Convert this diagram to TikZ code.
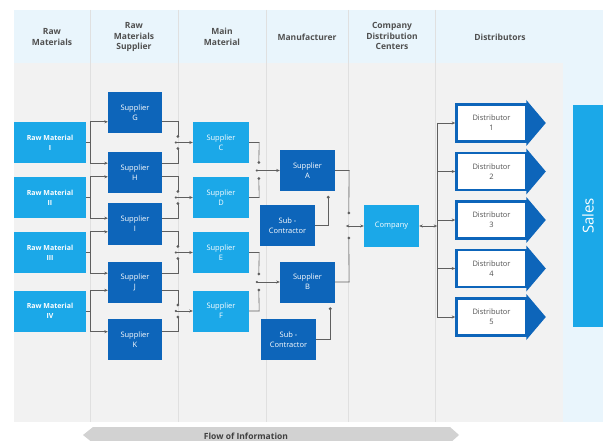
\documentclass[tikz,border=0pt]{standalone}
\usepackage{fontspec}
\setmainfont{Open Sans}
\usetikzlibrary{calc,arrows.meta}
\definecolor{lblue}{RGB}{27,168,232}
\definecolor{dblue}{RGB}{13,101,186}
\definecolor{hdrbg}{RGB}{233,245,252}
\definecolor{bodybg}{RGB}{242,242,242}
\definecolor{divline}{RGB}{224,224,224}
\definecolor{lgray}{RGB}{95,95,95}
\definecolor{htext}{RGB}{80,80,80}
\definecolor{flowbg}{RGB}{210,210,210}
\definecolor{shadowc}{RGB}{205,215,225}
\tikzset{
  boxbase/.style={inner sep=0pt, align=center, text=white, font=\fontsize{7.5}{10}\selectfont, minimum height=41pt},
  rmbox/.style={boxbase, fill=lblue, minimum width=72pt, font=\bfseries\fontsize{7}{10}\selectfont},
  rsbox/.style={boxbase, fill=dblue, minimum width=54pt},
  mmbox/.style={boxbase, fill=lblue, minimum width=56pt},
  mfbox/.style={boxbase, fill=dblue, minimum width=55pt},
  distbox/.style={inner sep=0pt, align=center, text=htext, font=\fontsize{7.5}{10}\selectfont, fill=white, draw=dblue, line width=2.6pt, minimum width=70pt, minimum height=37pt},
  hdr/.style={align=center, text=htext, font=\bfseries\fontsize{8.5}{10.5}\selectfont},
  conn/.style={draw=lgray, line width=0.6pt},
  arr/.style={conn, -{Stealth[length=3.5pt,width=3pt]}},
  darr/.style={conn, {Stealth[length=3.5pt,width=3pt]}-{Stealth[length=3.5pt,width=3pt]}},
  jdot/.style={fill=lgray, draw=none}
}
\begin{document}
\begin{tikzpicture}[x=1pt,y=-1pt]
\useasboundingbox (0,0) rectangle (603,441);
% backgrounds
\fill[white] (0,0) rectangle (603,441);
\fill[hdrbg] (14,10) rectangle (603,422);
\fill[bodybg] (14,63) rectangle (563,422);
\foreach \x in {90,178,266,348,435}{
  \draw[divline, line width=0.7pt] (\x,10) -- (\x,422);
}
% flow of information bar
\fill[flowbg] (93,427) -- (450,427) -- (459,435) -- (450,443) -- (93,443) -- (83,435) -- cycle;
\node[font=\bfseries\fontsize{8.5}{9}\selectfont, text=black!75] (flow) at (246,436) {Flow of Information};
% headers
\node[hdr] (h1) at (52,37) {Raw\\Materials};
\node[hdr] (h2) at (134,37) {Raw\\Materials\\Supplier};
\node[hdr] (h3) at (222,37) {Main\\Material};
\node[hdr] (h4) at (307,37) {Manufacturer};
\node[hdr] (h5) at (392,36) {Company\\Distribution\\Centers};
\node[hdr] (h6) at (500,37) {Distributors};
% raw materials
\node[rmbox] (rm1) at (50,142.5) {Raw Material\\I};
\node[rmbox] (rm2) at (50,197.5) {Raw Material\\II};
\node[rmbox] (rm3) at (50,252.5) {Raw Material\\III};
\node[rmbox] (rm4) at (50,311) {Raw Material\\IV};
% raw material suppliers
\node[rsbox] (g) at (135,112.5) {Supplier\\G};
\node[rsbox] (h) at (135,172.5) {Supplier\\H};
\node[rsbox] (i) at (135,224) {Supplier\\I};
\node[rsbox] (j) at (135,282) {Supplier\\J};
\node[rsbox] (k) at (135,339.5) {Supplier\\K};
% main material
\node[mmbox] (c) at (221,142.5) {Supplier\\C};
\node[mmbox] (d) at (221,197.5) {Supplier\\D};
\node[mmbox] (e) at (221,252.5) {Supplier\\E};
\node[mmbox] (f) at (221,311) {Supplier\\F};
% manufacturer
\node[mfbox] (a) at (307.5,170.5) {Supplier\\A};
\node[mfbox] (s1) at (287.5,225.5) {Sub -\\Contractor};
\node[mfbox] (b) at (307.5,282) {Supplier\\B};
\node[mfbox] (s2) at (288.5,339.5) {Sub -\\Contractor};
% company
\node[mmbox, minimum width=55pt, minimum height=42pt] (comp) at (391.5,226) {Company};
% distributors
\foreach \n/\y in {1/123,2/171.5,3/220,4/268.5,5/317}{
  \node[distbox] (d\n) at (491.5,\y) {Distributor\\\n};
  \fill[dblue] ($(d\n.east)+(-1.5,-23)$) -- ($(d\n.east)+(18,0)$) -- ($(d\n.east)+(-1.5,23)$) -- cycle;
}
% sales
\node[fill=lblue, minimum width=30pt, minimum height=222pt, inner sep=0pt] (sales) at (588,216) {};
\node[rotate=90, text=white, font=\fontsize{15}{16}\selectfont] (saleslbl) at (sales.center) {Sales};
% raw materials -> suppliers
\foreach \r/\u/\l in {rm1/g/h,rm2/h/i,rm3/i/j,rm4/j/k}{
  \draw[conn] (\r.east) -- ++(4,0);
  \draw[conn] ($(\r.north east)+(4,0)$) -- ($(\r.south east)+(4,0)$);
  \draw[arr] ($(\r.north east)+(4,0)$) -- (\r.north east -| \u.west);
  \draw[arr] ($(\r.south east)+(4,0)$) -- (\r.south east -| \l.west);
}
% suppliers -> main material
\foreach \m/\u/\l in {c/g/h,d/h/i,e/i/j,f/j/k}{
  \draw[conn] (\m.north west -| \u.east) -- ($(\m.north west)+(-15,0)$) -- ($(\m.west)+(-15,-6)$);
  \draw[conn] (\m.south west -| \l.east) -- ($(\m.south west)+(-15,0)$) -- ($(\m.west)+(-15,6)$);
  \fill[jdot] ($(\m.west)+(-15,-6)$) circle (1.5);
  \fill[jdot] ($(\m.west)+(-15,6)$) circle (1.5);
  \fill[jdot] ($(\m.west)+(-17,0)$) circle (1.2);
  \draw[arr] ($(\m.west)+(-17,0)$) -- (\m.west);
}
% main material -> manufacturer
\foreach \m/\u/\l in {a/c/d,b/e/f}{
  \draw[conn] (\u.east) -- ($(\u.east)+(10,0)$) -- ($(\m.west)+(-21,-8)$);
  \draw[conn] (\l.east) -- ($(\l.east)+(10,0)$) -- ($(\m.west)+(-21,8)$);
  \fill[jdot] ($(\m.west)+(-21,-8)$) circle (1.5);
  \fill[jdot] ($(\m.west)+(-21,8)$) circle (1.5);
  \fill[jdot] ($(\m.west)+(-23,0)$) circle (1.2);
  \draw[arr] ($(\m.west)+(-23,0)$) -- (\m.west);
}
% sub-contractors -> suppliers
\draw[conn] (s1.east) -| ($(a.south east)+(-7,6)$);
\fill[jdot] ($(a.south east)+(-7,6)$) circle (1.6);
\draw[conn] (s2.east) -| ($(b.south east)+(-5,6)$);
\fill[jdot] ($(b.south east)+(-5,6)$) circle (1.6);
% manufacturer -> company
\draw[conn] (a.east) -- ($(a.east)+(14,0)$) -- ($(comp.west)+(-15,-13)$);
\draw[conn] (b.east) -- ($(b.east)+(14,0)$) -- ($(comp.west)+(-15,12)$);
\fill[jdot] ($(comp.west)+(-15,-13)$) circle (1.5);
\fill[jdot] ($(comp.west)+(-15,12)$) circle (1.5);
\draw[darr] ($(comp.west)+(-18,0)$) -- (comp.west);
% company -> distributors
\coordinate (trtop) at ($(d1.west)+(-18,0)$);
\coordinate (trbot) at ($(d5.west)+(-18,0)$);
\draw[conn] (trtop) -- (trbot);
\draw[darr] (comp.east) -- (comp.east -| trtop);
\foreach \n in {1,...,5}{
  \draw[arr] ($(d\n.west)+(-18,0)$) -- (d\n.west);
}
\end{tikzpicture}
\end{document}
